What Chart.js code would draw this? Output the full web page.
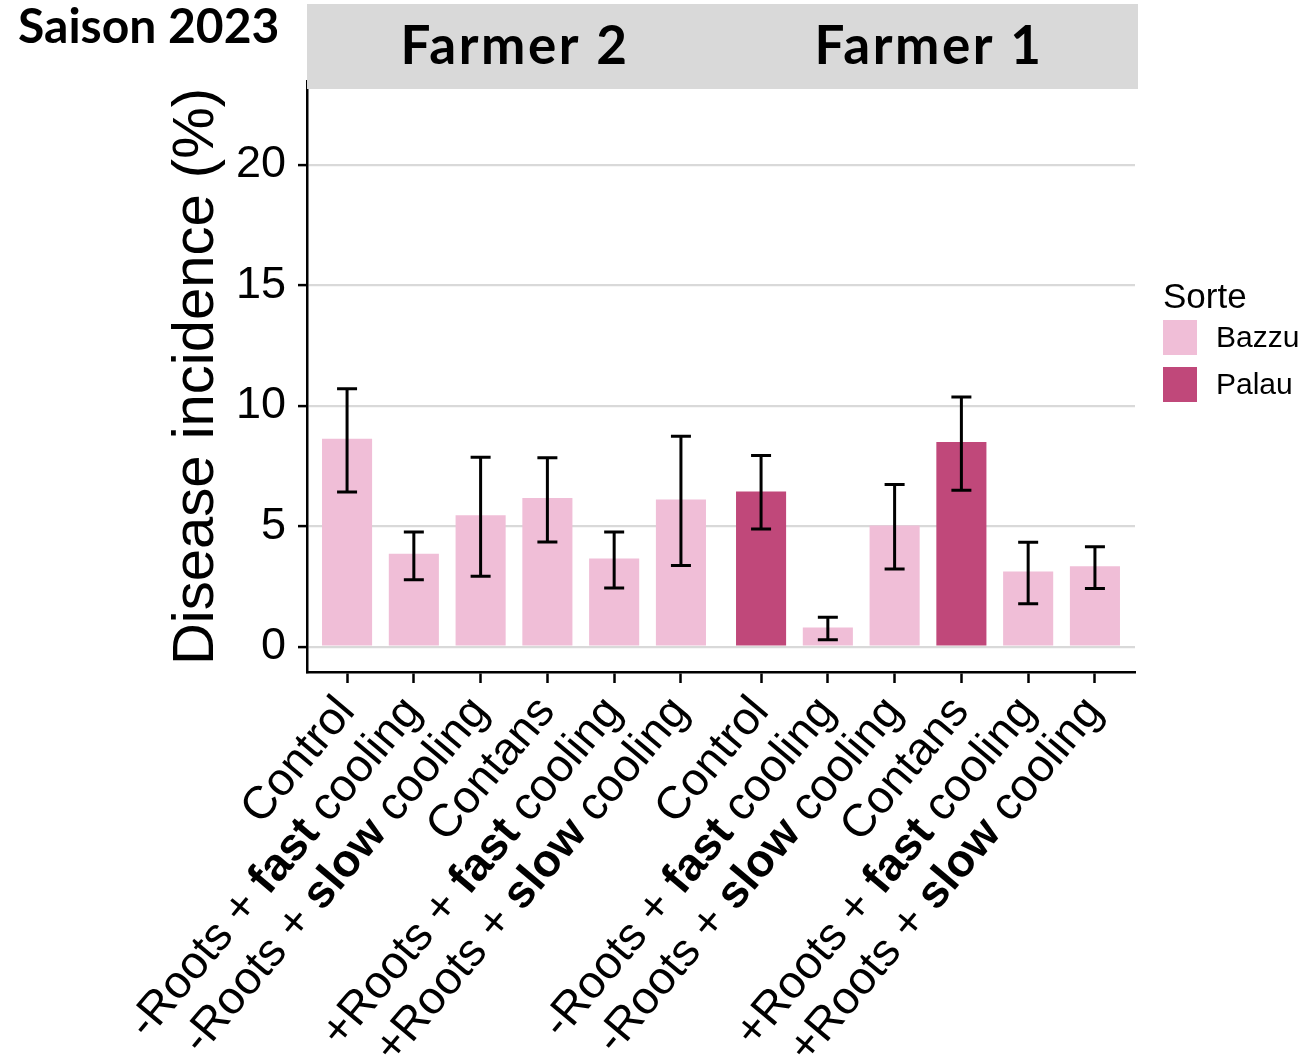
<!DOCTYPE html>
<html>
<head>
<meta charset="utf-8">
<script src="https://cdn.jsdelivr.net/npm/chart.js@4.4.1/dist/chart.umd.min.js"></script>
<style>
  html, body { margin: 0; padding: 0; background: #ffffff; }
  canvas { display: block; }
</style>
</head>
<body>
<canvas id="chart" width="1314" height="1057"></canvas>
<script>
// ---------------- DATA ----------------
const chartTitle = 'Saison 2023';
const facetNames = ['Farmer 2', 'Farmer 1'];
const treatmentLabels = [
  'Control',
  '-Roots + **fast** cooling',
  '-Roots + **slow** cooling',
  'Contans',
  '+Roots + **fast** cooling',
  '+Roots + **slow** cooling'
];
const varietyNames = ['Bazzu', 'Palau'];
// one entry per bar, facet by facet (Farmer 2 then Farmer 1), treatments in order
const barVariety = ['Bazzu', 'Bazzu', 'Bazzu', 'Bazzu', 'Bazzu', 'Bazzu',
                    'Palau', 'Bazzu', 'Bazzu', 'Palau', 'Bazzu', 'Bazzu'];
const meanIncidence = [8.63, 3.86, 5.45, 6.17, 3.66, 6.11,
                       6.44, 0.80, 5.03, 8.49, 3.12, 3.34];
const errLower = [6.42, 2.78, 2.92, 4.34, 2.43, 3.37,
                  4.88, 0.29, 3.22, 6.49, 1.78, 2.41];
const errUpper = [10.70, 4.76, 7.86, 7.84, 4.76, 8.73,
                  7.93, 1.22, 6.73, 10.36, 4.33, 4.15];
const yTickValues = [0, 5, 10, 15, 20];
const yAxisTitle = 'Disease incidence (%)';
const legendTitle = 'Sorte';

// ---------------- STYLE / LAYOUT ----------------
const varietyColors = { Bazzu: '#F0BED7', Palau: '#C0487A' };
const SANS = '"Liberation Sans", Arial, Helvetica, sans-serif';
const GILL = 'Lato, "Open Sans", sans-serif';
const nTreat = treatmentLabels.length;
const EXPAND = 0.6;                        // discrete axis expansion (ggplot style)
const panelSpan = nTreat - 1 + 2 * EXPAND; // width of one facet panel in category units
const xMin = 1 - EXPAND;
const xMax = facetNames.length * panelSpan + xMin;
const yMin = -1.05, yMax = 23.47;
const LABEL_ANGLE = 50 * Math.PI / 180;
const LABEL_SIZE = 46;

// x position of every bar: facet offset + treatment index
const barX = barVariety.map((_, i) => Math.floor(i / nTreat) * panelSpan + (i % nTreat) + 1);
const barLabel = barVariety.map((_, i) => treatmentLabels[i % nTreat]);

const datasets = varietyNames.map(v => ({
  label: v,
  data: barVariety.map((bv, i) => bv === v ? { x: barX[i], y: meanIncidence[i] } : null).filter(Boolean),
  backgroundColor: varietyColors[v],
  borderWidth: 0,
  grouped: false,
  barPercentage: 0.75,
  categoryPercentage: 1.0
}));

// ---------------- PLUGINS ----------------
const errorBarPlugin = {
  id: 'errorBars',
  afterDatasetsDraw(chart) {
    const { ctx, scales: { x, y } } = chart;
    ctx.save();
    ctx.strokeStyle = '#000';
    ctx.lineWidth = 3;
    ctx.lineCap = 'butt';
    const capHalf = 10;
    barX.forEach((bx, i) => {
      const px = x.getPixelForValue(bx);
      const lo = y.getPixelForValue(errLower[i]);
      const hi = y.getPixelForValue(errUpper[i]);
      ctx.beginPath();
      ctx.moveTo(px, lo); ctx.lineTo(px, hi);
      ctx.moveTo(px - capHalf, lo); ctx.lineTo(px + capHalf, lo);
      ctx.moveTo(px - capHalf, hi); ctx.lineTo(px + capHalf, hi);
      ctx.stroke();
    });
    ctx.restore();
  }
};

const facetStripPlugin = {
  id: 'facetStrips',
  afterDraw(chart) {
    const { ctx, scales: { x } } = chart;
    ctx.save();
    facetNames.forEach((name, f) => {
      const l = x.getPixelForValue(f * panelSpan + xMin);
      const r = x.getPixelForValue((f + 1) * panelSpan + xMin);
      ctx.fillStyle = '#D9D9D9';
      ctx.fillRect(l, 4, r - l + (f === facetNames.length - 1 ? 3 : 1), 85);
      ctx.fillStyle = '#000';
      ctx.font = 'bold 53px ' + GILL;
      try { ctx.letterSpacing = '2.5px'; } catch (e) {}
      ctx.textAlign = 'center';
      ctx.textBaseline = 'middle';
      ctx.fillText(name, (l + r) / 2 + 1, 47);
      try { ctx.letterSpacing = '0px'; } catch (e) {}
    });
    ctx.restore();
  }
};

function parseSegments(label) {
  const parts = label.split('**');
  return parts.map((t, i) => ({ t, bold: i % 2 === 1 })).filter(s => s.t.length);
}

const rotatedLabelPlugin = {
  id: 'rotatedLabels',
  afterDraw(chart) {
    const { ctx, scales: { x }, chartArea } = chart;
    const size = LABEL_SIZE;
    const capH = 0.716 * size;
    ctx.save();
    ctx.fillStyle = '#000';
    ctx.textBaseline = 'alphabetic';
    ctx.textAlign = 'left';
    barX.forEach((bx, i) => {
      const segs = parseSegments(barLabel[i]);
      let total = 0;
      segs.forEach(s => {
        ctx.font = (s.bold ? 'bold ' : '') + size + 'px ' + SANS;
        s.w = ctx.measureText(s.t).width;
        total += s.w;
      });
      // anchor = top-right corner (cap height) of the rotated label
      const ax = x.getPixelForValue(bx) - 16;
      const ay = chartArea.bottom + 19;
      ctx.save();
      ctx.translate(ax, ay);
      ctx.rotate(-LABEL_ANGLE);
      let cx = -total;
      segs.forEach(s => {
        ctx.font = (s.bold ? 'bold ' : '') + size + 'px ' + SANS;
        ctx.fillText(s.t, cx, capH);
        cx += s.w;
      });
      ctx.restore();
    });
    ctx.restore();
  }
};

const legendPlugin = {
  id: 'sideLegend',
  afterDraw(chart) {
    const { ctx, chartArea } = chart;
    const x0 = chartArea.right + 28;
    ctx.save();
    ctx.fillStyle = '#000';
    ctx.textAlign = 'left';
    ctx.textBaseline = 'middle';
    ctx.font = '35px ' + SANS;
    ctx.fillText(legendTitle, x0, 298);
    varietyNames.forEach((v, k) => {
      const top = 320 + k * 47;
      ctx.fillStyle = varietyColors[v];
      ctx.fillRect(x0, top, 34, 35);
      ctx.fillStyle = '#000';
      ctx.font = '30px ' + SANS;
      ctx.fillText(v, x0 + 53, top + 19);
    });
    ctx.restore();
  }
};

// ---------------- CHART ----------------
Chart.defaults.color = '#000';
Chart.defaults.font.family = SANS;

new Chart(document.getElementById('chart'), {
  type: 'bar',
  data: { datasets },
  options: {
    responsive: false,
    animation: false,
    devicePixelRatio: 1,
    layout: { padding: { left: 18, right: 179, top: 0, bottom: 0 } },
    plugins: {
      legend: { display: false },
      tooltip: { enabled: false },
      title: {
        display: true,
        text: chartTitle,
        align: 'start',
        color: '#000',
        font: { family: GILL, weight: 'bold', size: 48, lineHeight: 1 },
        padding: { top: 4, bottom: 29 }
      }
    },
    scales: {
      x: {
        type: 'linear',
        min: xMin,
        max: xMax,
        offset: false,
        afterBuildTicks: s => { s.ticks = barX.map(v => ({ value: v })); },
        afterFit: s => { s.height = 385; },
        ticks: { callback: () => '', autoSkip: false, maxRotation: 0 },
        grid: { offset: false, drawOnChartArea: false, drawTicks: true, tickLength: 11, tickColor: '#000', tickWidth: 2.5 },
        border: { display: true, color: '#000', width: 2.5 }
      },
      y: {
        type: 'linear',
        min: yMin,
        max: yMax,
        afterBuildTicks: s => { s.ticks = yTickValues.map(v => ({ value: v })); },
        afterFit: s => { s.width = 289; },
        ticks: { font: { family: SANS, size: 45 }, color: '#000', padding: 12 },
        grid: { color: '#D9D9D9', lineWidth: 2.2, drawTicks: true, tickLength: 9, tickColor: '#000', tickWidth: 2.5 },
        border: { display: true, color: '#000', width: 2.5 },
        title: {
          display: true,
          text: yAxisTitle,
          color: '#000',
          font: { family: SANS, size: 58, lineHeight: 1 },
          padding: { top: 150, bottom: 0 }
        }
      }
    }
  },
  plugins: [errorBarPlugin, facetStripPlugin, rotatedLabelPlugin, legendPlugin]
});
</script>
</body>
</html>
